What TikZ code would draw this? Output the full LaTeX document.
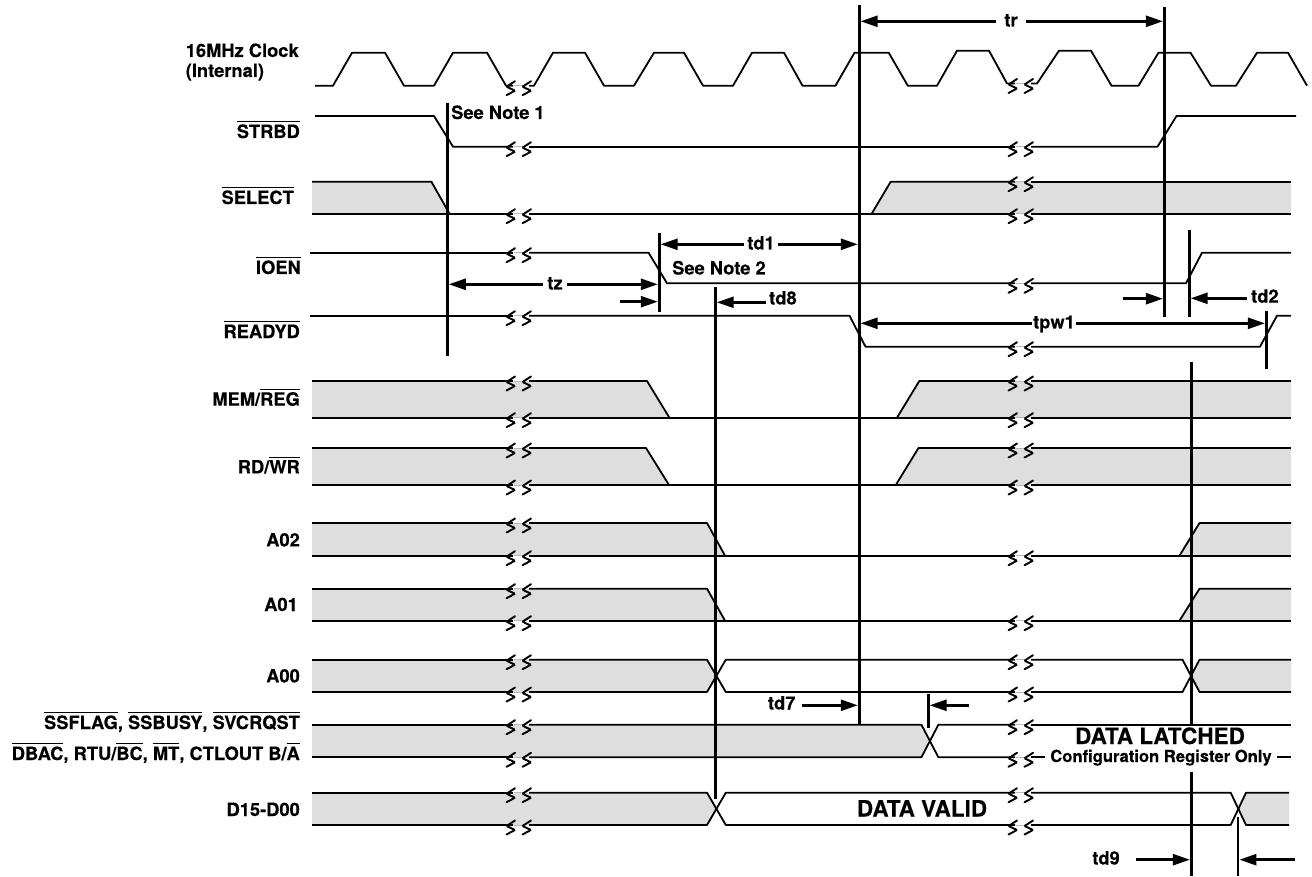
\documentclass[tikz,border=0pt]{standalone}
\usepackage{fontspec}
\setmainfont{TeX Gyre Heros}[BoldFeatures={FakeBold=0.25}]
\usetikzlibrary{arrows.meta}
\newcommand\barred[1]{\setbox0\hbox{#1}\rlap{\rule[\dimexpr\ht0+2.2pt\relax]{\wd0}{1.3pt}}\box0 }
\definecolor{shade}{HTML}{DEDEDE}
\definecolor{gapline}{HTML}{B8B8B8}
\tikzset{
  sig/.style={line width=1.8pt,line join=round,black},
  shaded/.style={fill=shade,draw=none},
  guide/.style={line width=2.8pt,black},
  dimarrow/.style={line width=2.5pt,-{Triangle[length=17pt,width=11pt]}},
  zz/.style={line width=1.9pt,black,rounded corners=0.8pt,line cap=round},
  gapl/.style={line width=0.8pt,gapline},
  lab/.style={inner sep=0pt,font=\fontsize{18.3}{22}\selectfont\bfseries},
  big/.style={inner sep=0pt,font=\fontsize{22.5}{26}\selectfont\bfseries},
  cfg/.style={inner sep=0pt,font=\fontsize{16.6}{20}\selectfont\bfseries}
}
% break mark: #1 = left x of the pair, #2 = line y
\newcommand\brk[2]{%
  \draw[gapl] (#1+9,#2) -- (#1+19,#2);
  \draw[zz] (#1+10,#2-4.5) -- (#1+1.5,#2+1) -- (#1+10,#2+5) -- (#1+1.5,#2+9.5);
  \draw[zz] (#1+26,#2-4.5) -- (#1+17.5,#2+1) -- (#1+26,#2+5) -- (#1+17.5,#2+9.5);
}
\begin{document}
\begin{tikzpicture}[x=1pt,y=-1pt]
\useasboundingbox (0,0) rectangle (1312,877);
\fill[white] (0,0) rectangle (1312,877);
% shaded regions
\fill[shaded] (312,181.7) -- (431.4,181.7) -- (449.5,213.7) -- (312,213.7) -- cycle;
\fill[shaded] (871.7,213.7) -- (890.7,181.7) -- (1291,181.7) -- (1291,213.7) -- cycle;
\fill[shaded] (312,381) -- (647,381) -- (669.4,417.7) -- (312,417.7) -- cycle;
\fill[shaded] (897,417.7) -- (919.3,381) -- (1291,381) -- (1291,417.7) -- cycle;
\fill[shaded] (312,448) -- (646,448) -- (669,485) -- (312,485) -- cycle;
\fill[shaded] (895.8,485) -- (918.5,448) -- (1291,448) -- (1291,485) -- cycle;
\fill[shaded] (312,523) -- (707,523) -- (725,555.7) -- (312,555.7) -- cycle;
\fill[shaded] (1179.5,555.7) -- (1199.5,523) -- (1291,523) -- (1291,555.7) -- cycle;
\fill[shaded] (312,588.7) -- (707,588.7) -- (725,620.7) -- (312,620.7) -- cycle;
\fill[shaded] (1179.5,620.7) -- (1199.5,588.7) -- (1291,588.7) -- (1291,620.7) -- cycle;
\fill[shaded] (312,659.7) -- (707,659.7) -- (715.7,675.8) -- (707,692) -- (312,692) -- cycle;
\fill[shaded] (1191.5,675.8) -- (1199.5,659.7) -- (1291,659.7) -- (1291,692) -- (1199.5,692) -- cycle;
\fill[shaded] (312,724.7) -- (921.4,724.7) -- (928.6,741) -- (921.4,757.3) -- (312,757.3) -- cycle;
\fill[shaded] (312,792.7) -- (707,792.7) -- (715.7,808.8) -- (707,825) -- (312,825) -- cycle;
\fill[shaded] (1238.3,808.8) -- (1246,792.7) -- (1289,792.7) -- (1289,825) -- (1246,825) -- cycle;
% clock
\draw[sig] (315,85.7) -- (333,85.7) -- (352,52.7) -- (385,52.7) -- (404,85.7) -- (434,85.7) -- (453,52.7) -- (487,52.7) -- (506,85.7) -- (513,85.7);
\draw[sig] (529,85.7) -- (534,85.7) -- (553,52.7) -- (585,52.7) -- (604,85.7) -- (634,85.7) -- (654,52.7) -- (684,52.7) -- (703,85.7) -- (733,85.7) -- (752,52.7) -- (784,52.7) -- (802.5,85.7) -- (835.5,85.7) -- (854.5,52.7) -- (888.7,52.7) -- (907.8,85.7) -- (937,85.7) -- (957,50.7) -- (989,50.7) -- (1007,83.5) -- (1015,83.5);
\draw[sig] (1031,83.5) -- (1037,83.5) -- (1059,50.7) -- (1091,50.7) -- (1111.5,85.7) -- (1138.5,85.7) -- (1158.5,52.7) -- (1190.5,52.7) -- (1211,85.7) -- (1236,85.7) -- (1257,52.7) -- (1288,52.7) -- (1307,85.7);
% STRBD
\draw[sig] (315,116) -- (434,116) -- (453,146.7) -- (513,146.7);
\draw[sig] (529,146.7) -- (1015,146.7);
\draw[sig] (1031,146.7) -- (1157.5,146.7) -- (1176.5,116) -- (1296,116);
% SELECT
\draw[sig] (312,181.7) -- (431.4,181.7) -- (449.5,213.7);
\draw[sig] (871.7,213.7) -- (890.7,181.7) -- (1015,181.7);
\draw[sig] (1031,181.7) -- (1291,181.7);
\draw[sig] (312,213.7) -- (513,213.7);
\draw[sig] (529,213.7) -- (1015,213.7);
\draw[sig] (1031,213.7) -- (1291,213.7);
% IOEN
\draw[sig] (310,252.7) -- (513,252.7);
\draw[sig] (529,252.7) -- (648.6,252.7) -- (667,283.3) -- (1015,283.3);
\draw[sig] (1031,283.3) -- (1186,283.3) -- (1202,252.7) -- (1291,252.7);
% READYD
\draw[sig] (310,315.7) -- (513,315.7);
\draw[sig] (529,315.7) -- (849.5,315.7) -- (865.5,346.7) -- (1015,346.7);
\draw[sig] (1031,346.7) -- (1260,346.7) -- (1277,315.7) -- (1291,315.7);
% MEM/REG
\draw[sig] (312,381) -- (513,381);
\draw[sig] (529,381) -- (647,381) -- (669.4,417.7);
\draw[sig] (897,417.7) -- (919.3,381) -- (1015,381);
\draw[sig] (1031,381) -- (1291,381);
\draw[sig] (312,417.7) -- (513,417.7);
\draw[sig] (529,417.7) -- (1015,417.7);
\draw[sig] (1031,417.7) -- (1291,417.7);
% RD/WR
\draw[sig] (312,448) -- (513,448);
\draw[sig] (529,448) -- (646,448) -- (669,485);
\draw[sig] (895.8,485) -- (918.5,448) -- (1015,448);
\draw[sig] (1031,448) -- (1291,448);
\draw[sig] (312,485) -- (513,485);
\draw[sig] (529,485) -- (1015,485);
\draw[sig] (1031,485) -- (1291,485);
% A02
\draw[sig] (312,523) -- (513,523);
\draw[sig] (529,523) -- (707,523) -- (725,555.7);
\draw[sig] (1179.5,555.7) -- (1199.5,523) -- (1291,523);
\draw[sig] (312,555.7) -- (513,555.7);
\draw[sig] (529,555.7) -- (1015,555.7);
\draw[sig] (1031,555.7) -- (1291,555.7);
% A01
\draw[sig] (312,588.7) -- (513,588.7);
\draw[sig] (529,588.7) -- (707,588.7) -- (725,620.7);
\draw[sig] (1179.5,620.7) -- (1199.5,588.7) -- (1291,588.7);
\draw[sig] (312,620.7) -- (513,620.7);
\draw[sig] (529,620.7) -- (1015,620.7);
\draw[sig] (1031,620.7) -- (1291,620.7);
% A00
\draw[sig] (312,659.7) -- (513,659.7);
\draw[sig] (529,659.7) -- (707,659.7) -- (725.8,692) -- (1015,692);
\draw[sig] (1031,692) -- (1182.5,692) -- (1199.5,659.7) -- (1291,659.7);
\draw[sig] (312,692) -- (513,692);
\draw[sig] (529,692) -- (707,692) -- (725.8,659.7) -- (1015,659.7);
\draw[sig] (1031,659.7) -- (1182.5,659.7) -- (1199.5,692) -- (1291,692);
% SSFLAG group
\draw[sig] (312,724.7) -- (513,724.7);
\draw[sig] (529,724.7) -- (921.4,724.7) -- (938.4,757.3) -- (1015,757.3);
\draw[sig] (1031,757.3) -- (1045,757.3);
\draw[sig] (1277,757.3) -- (1291,757.3);
\draw[sig] (312,757.3) -- (513,757.3);
\draw[sig] (529,757.3) -- (921.4,757.3) -- (938.4,724.7) -- (1015,724.7);
\draw[sig] (1031,724.7) -- (1291,724.7);
% D15-D00
\draw[sig] (312,792.7) -- (513,792.7);
\draw[sig] (529,792.7) -- (707,792.7) -- (725.8,825) -- (1015,825);
\draw[sig] (1031,825) -- (1230.7,825) -- (1246,792.7) -- (1289,792.7);
\draw[sig] (312,825) -- (513,825);
\draw[sig] (529,825) -- (707,825) -- (725.8,792.7) -- (1015,792.7);
\draw[sig] (1031,792.7) -- (1230.7,792.7) -- (1246,825) -- (1289,825);
% breaks
\foreach \yy in {85.7,146.7,213.7,252.7,315.7,381,417.7,448,485,523,555.7,588.7,620.7,659.7,692,724.7,757.3,792.7,825} {\brk{505}{\yy}}
\foreach \yy in {83.5,146.7,181.7,213.7,283.3,346.7,381,417.7,448,485,555.7,620.7,659.7,692,724.7,757.3,792.7,825} {\brk{1007}{\yy}}
% vertical guides
\draw[guide] (447.4,103) coordinate (g1t) -- (447.4,355.7) coordinate (g1b);
\draw[guide] (659.2,233) coordinate (g2t) -- (659.2,311.7) coordinate (g2b);
\draw[guide] (715.3,287) coordinate (g3t) -- (715.3,798.7) coordinate (g3b);
\draw[guide] (859.2,5) coordinate (g4t) -- (859.2,724.3) coordinate (g4b);
\draw[guide] (1164.3,6.7) coordinate (g5t) -- (1164.3,316.7) coordinate (g5b);
\draw[guide] (1189.3,230) coordinate (g6t) -- (1189.3,316.7) coordinate (g6b);
\draw[guide] (1266.3,311) coordinate (g7t) -- (1266.3,369.3) coordinate (g7b);
\draw[guide] (1191.3,362.3) coordinate (g8t) -- (1191.3,724.3) coordinate (g8b);
\draw[guide] (1191.3,772) coordinate (g9t) -- (1191.3,876) coordinate (g9b);
\draw[guide] (1238,817) coordinate (g10t) -- (1238,876) coordinate (g10b);
\draw[guide] (928.2,693.7) coordinate (g11t) -- (928.2,727.7) coordinate (g11b);
% dimension labels and arrows
\node[lab,inner xsep=8pt,anchor=base] (tr) at (1011,26.5) {tr};
\coordinate (trL) at (860.6,21.3); \coordinate (trR) at (1162.9,21.3);
\draw[dimarrow] (tr.west |- trL) -- (trL);
\draw[dimarrow] (tr.east |- trR) -- (trR);
\node[lab,inner xsep=3pt,anchor=base] (td1) at (761,249.5) {td1};
\coordinate (td1L) at (660.6,244.3); \coordinate (td1R) at (857.8,244.3);
\draw[dimarrow] (td1.west |- td1L) -- (td1L);
\draw[dimarrow] (td1.east |- td1R) -- (td1R);
\node[lab,inner xsep=4pt,anchor=base] (tz) at (555,289.5) {tz};
\coordinate (tzL) at (448.8,284.3); \coordinate (tzR) at (657.8,284.3);
\draw[dimarrow] (tz.west |- tzL) -- (tzL);
\draw[dimarrow] (tz.east |- tzR) -- (tzR);
\node[lab,inner xsep=1pt,anchor=base] (tpw) at (1054,328.5) {tpw1};
\coordinate (tpwL) at (860.6,323.3); \coordinate (tpwR) at (1264.9,323.3);
\draw[dimarrow] (tpw.west |- tpwL) -- (tpwL);
\draw[dimarrow] (tpw.east |- tpwR) -- (tpwR);
\coordinate (sa1) at (620,301.7); \coordinate (sa1e) at (657.8,301.7);
\draw[dimarrow] (sa1) -- (sa1e);
\node[lab,anchor=base west] (td8) at (769,304.5) {td8};
\coordinate (td8e) at (716.7,302.3);
\draw[dimarrow] (td8.west |- td8e) ++(-3,0) -- (td8e);
\coordinate (sa2) at (1122.5,298.7); \coordinate (sa2e) at (1162.9,298.7);
\draw[dimarrow] (sa2) -- (sa2e);
\node[lab,anchor=base west] (td2) at (1251,302.7) {td2};
\coordinate (td2e) at (1190.7,298.3);
\draw[dimarrow] (td2.west |- td2e) ++(-4.3,0) -- (td2e);
\node[lab,anchor=base] (td7) at (781.7,709.5) {td7};
\coordinate (td7s) at (801.5,705.3); \coordinate (td7e) at (857.8,705.3);
\draw[dimarrow] (td7s) -- (td7e);
\coordinate (td7b) at (968.5,705.3); \coordinate (td7c) at (929.6,705.3);
\draw[dimarrow] (td7b) -- (td7c);
\node[lab,anchor=base] (td9) at (1106,864.5) {td9};
\coordinate (td9s) at (1136,859.7); \coordinate (td9e) at (1189.9,859.7);
\draw[dimarrow] (td9s) -- (td9e);
\coordinate (td9b) at (1295,859.7); \coordinate (td9c) at (1239.4,859.7);
\draw[dimarrow] (td9b) -- (td9c);
% notes
\node[lab,anchor=base west] (n1) at (451,119) {See Note 1};
\node[lab,anchor=base west] (n2) at (672,274.5) {See Note 2};
% big texts
\node[big,anchor=base] (dv) at (922,816.5) {DATA VALID};
\node[big,anchor=base] (dl) at (1160,744) {DATA LATCHED};
\node[cfg,anchor=base] (cr) at (1161,762) {Configuration Register Only};
% signal names
\node[lab,anchor=base west] (clk) at (185.6,57) {16MHz Clock};
\node[lab,anchor=base west] (clki) at (185.6,77) {(Internal)};
\node[lab,anchor=base east] (l1) at (300,138) {\barred{STRBD}};
\node[lab,anchor=base east] (l2) at (294,204) {\barred{SELECT}};
\node[lab,anchor=base east] (l3) at (301,274) {\barred{IOEN}};
\node[lab,anchor=base east] (l4) at (300,338) {\barred{READYD}};
\node[lab,anchor=base east] (l5) at (300,405.7) {MEM/\barred{REG}};
\node[lab,anchor=base east] (l6) at (300,473.4) {RD/\barred{WR}};
\node[lab,anchor=base east] (l7) at (300,546.4) {A02};
\node[lab,anchor=base east] (l8) at (298,611) {A01};
\node[lab,anchor=base east] (l9) at (300,682.4) {A00};
\node[lab,anchor=base east] (l10) at (300,729) {\barred{SSFLAG}, \barred{SSBUSY}, \barred{SVCRQST}};
\node[lab,anchor=base east] (l11) at (300,760) {\barred{DBAC}, RTU/\barred{BC}, \barred{MT}, CTLOUT B/\barred{A}};
\node[lab,anchor=base east] (l12) at (300,816) {D15-D00};
\end{tikzpicture}
\end{document}
